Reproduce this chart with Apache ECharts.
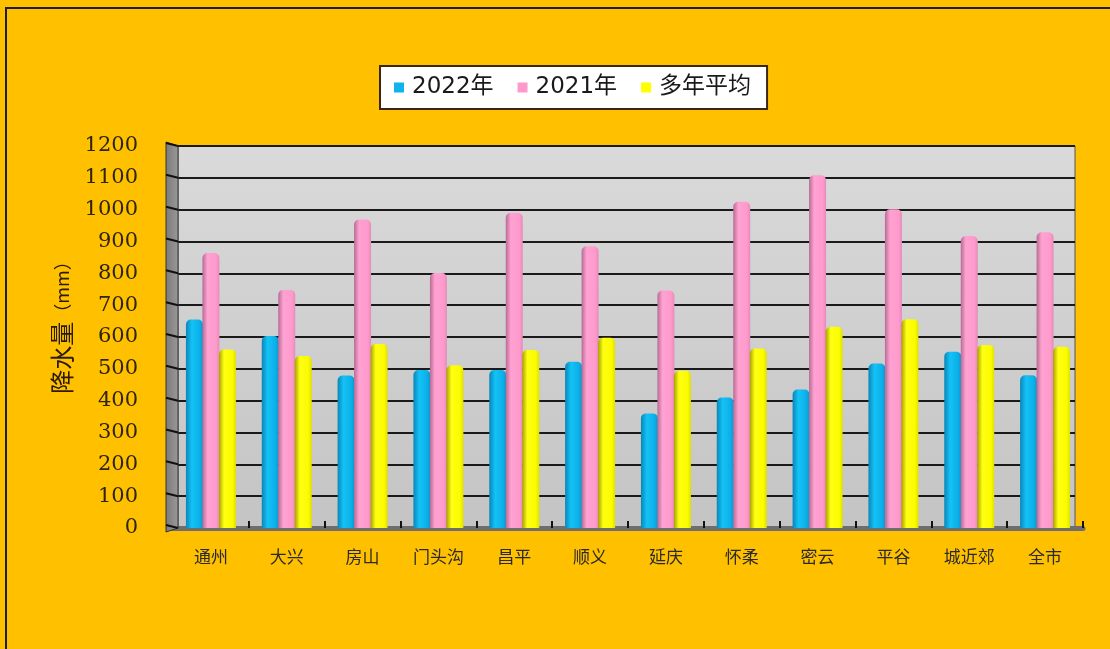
<!DOCTYPE html>
<html><head><meta charset="utf-8">
<script src="https://cdn.jsdelivr.net/npm/echarts@6/dist/echarts.min.js"></script>
<style>html,body{margin:0;padding:0;background:#FFC000;}#c{width:1110px;height:649px;}</style>
</head><body><div id="c"></div>
<script>
const categories = ['通州','大兴','房山','门头沟','昌平','顺义','延庆','怀柔','密云','平谷','城近郊','全市'];
const seriesNames = ['2022年','2021年','多年平均'];
const v2022 = [655, 603, 479, 496, 496, 522, 360, 410, 435, 517, 554, 480];
const v2021 = [864, 748, 969, 801, 990, 885, 746, 1025, 1108, 1001, 917, 929];
const vAvg  = [561, 540, 578, 511, 559, 598, 494, 564, 632, 656, 575, 569];
const yMin = 0, yMax = 1200, yStep = 100;
const yAxisName = '降水量';
const yAxisUnit = '（mm）';

const chart = echarts.init(document.getElementById('c'));
function grad(stops){return new echarts.graphic.LinearGradient(0,0,1,0,stops.map((c)=>({offset:c[0],color:c[1]})));}
const barColors = [
  grad([[0,'#0a86b8'],[0.35,'#14c2f6'],[0.8,'#0cb0e8'],[1,'#0a96cc']]),
  grad([[0,'#b86a94'],[0.3,'#ffa2d2'],[0.8,'#ff9acc'],[1,'#e48cba']]),
  grad([[0,'#a8a000'],[0.3,'#ffff12'],[0.8,'#fbfb00'],[1,'#e0e000']])
];
const legendColors = ['#0fb4ec','#ff99cc','#ffff00'];
const vals = [v2022, v2021, vAvg];
const TOP = 146, BOTTOM = 121;

chart.setOption({
  backgroundColor: '#FFC000',
  animation: false,
  legend: {
    top: 66, left: 380,
    data: seriesNames.map((n,i)=>({name:n, itemStyle:{color:legendColors[i]}})),
    backgroundColor: '#ffffff', borderColor: '#3a2612', borderWidth: 2,
    padding: [10, 16, 10, 14], itemGap: 24, itemWidth: 10, itemHeight: 10, icon: 'rect',
    textStyle: {fontFamily: 'DejaVu Sans, Noto Sans CJK SC', fontSize: 23, color: '#1a1a1a', padding:[0,0,0,3]}
  },
  grid: [
    {left: 178, right: 35, top: TOP, bottom: BOTTOM, show: true,
     backgroundColor: new echarts.graphic.LinearGradient(0,0,0,1,[{offset:0,color:'#dadada'},{offset:1,color:'#c4c4c4'}]),
     borderColor: '#555', borderWidth: 1},
    {left: 173, right: 27, top: TOP, bottom: BOTTOM}
  ],
  xAxis: [
    {gridIndex:0, type:'category', data: categories, axisLine:{show:false}, axisTick:{show:false}, axisLabel:{show:false}},
    {gridIndex:1, type:'category', data: categories,
     axisLine:{show:true, lineStyle:{color:'#6e6e6e', width:5}},
     axisTick:{show:true, inside:true, length:7, lineStyle:{color:'#111', width:2}},
     axisLabel:{margin:20, fontFamily:'Noto Sans CJK SC', fontSize:17, color:'#2a2a2a'}}
  ],
  yAxis: [
    {gridIndex:0, type:'value', min:yMin, max:yMax, interval:yStep,
     axisLine:{show:false}, axisTick:{show:false},
     axisLabel:{margin:40, fontFamily:'DejaVu Serif', fontSize:21, color:'#2e2410', formatter: (v)=>String(v)},
     splitLine:{show:true, lineStyle:{color:'#1a1a1a', width:2}},
     name: '{a|'+yAxisName+'}{b|'+yAxisUnit+'}', nameLocation:'middle', nameGap:103, nameRotate:90,
     nameTextStyle:{padding:[0,0,0,28], rich:{a:{fontFamily:'Noto Sans CJK SC', fontSize:24, color:'#2a1a0a'}, b:{fontFamily:'Noto Sans CJK SC', fontSize:18, color:'#2a1a0a'}}}},
    {gridIndex:1, type:'value', min:yMin, max:yMax, interval:yStep, show:false, splitLine:{show:false}}
  ],
  series: seriesNames.map((n,i)=>({
    name:n, type:'bar', xAxisIndex:1, yAxisIndex:1, data: vals[i],
    barWidth: 17, barGap: '-3%',
    itemStyle:{color: barColors[i], borderRadius:[5,5,0,0]}
  }))
});

// 3D left wall & frame decorations derived from the axis scale
const yTop = chart.convertToPixel({yAxisIndex:0}, yMax);
const yBot = chart.convertToPixel({yAxisIndex:0}, yMin);
const xBack = 178, xFront = 166;
const g = [
  {type:'rect', shape:{x:6, y:8, width:1120, height:660}, style:{fill:'none', stroke:'#1e1e1e', lineWidth:2}, z:100},
  {type:'polygon', shape:{points:[[xFront,yTop-4],[xBack,yTop],[xBack,yBot],[xFront,yBot+4]]}, style:{fill:new echarts.graphic.LinearGradient(0,0,1,0,[{offset:0,color:'#7a7a7a'},{offset:1,color:'#9a9a9a'}]), stroke:'#333', lineWidth:1}, z:5}
];
for (let v = yMin; v <= yMax; v += yStep) {
  const y = chart.convertToPixel({yAxisIndex:0}, v);
  g.push({type:'line', shape:{x1:xFront, y1:y-3, x2:xBack, y2:y}, style:{stroke:'#111', lineWidth:2}, z:6});
}
chart.setOption({graphic: g});
</script></body></html>
